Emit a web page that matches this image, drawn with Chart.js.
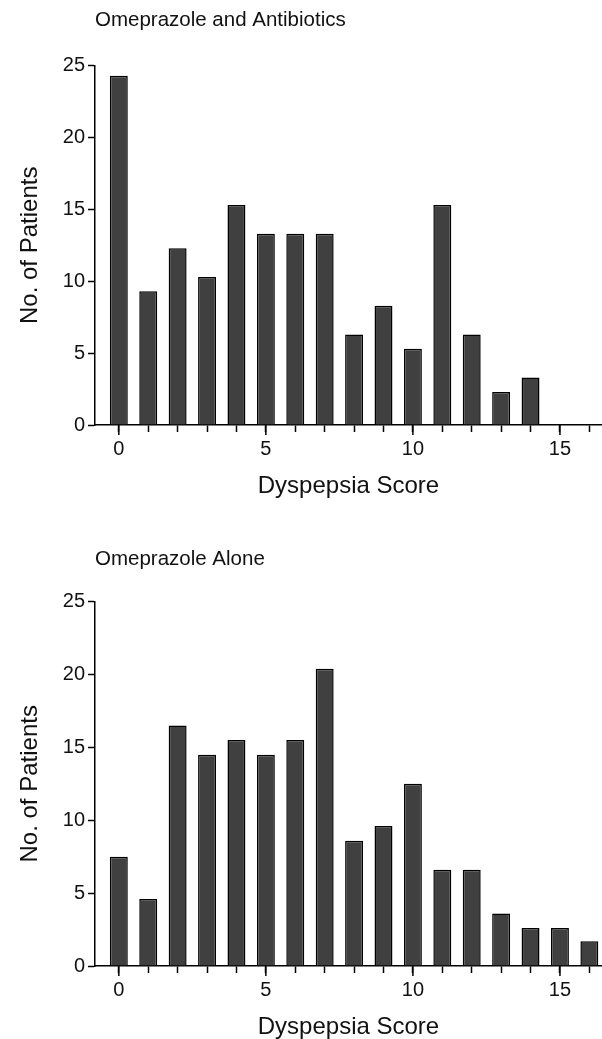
<!DOCTYPE html>
<html>
<head>
<meta charset="utf-8">
<script src="https://cdn.jsdelivr.net/npm/chart.js@4.4.1/dist/chart.umd.min.js"></script>
<style>
  html, body { margin: 0; padding: 0; background: #fff; }
  .panel { position: absolute; left: 0; width: 602px; }
  #top { top: 0; height: 530px; }
  #bottom { top: 530px; height: 509px; }
</style>
</head>
<body>
<div class="panel" id="top"><canvas id="c1"></canvas></div>
<div class="panel" id="bottom"><canvas id="c2"></canvas></div>
<script>
// dyspepsia score 0..16
const scores = [0, 1, 2, 3, 4, 5, 6, 7, 8, 9, 10, 11, 12, 13, 14, 15, 16]
const omeprazoleAntibiotics = [24.3, 9.3, 12.3, 10.3, 15.3, 13.3, 13.3, 13.3, 6.3, 8.3, 5.3, 15.3, 6.3, 2.3, 3.3, 0, 0]
const omeprazoleAlone = [7.5, 4.6, 16.5, 14.5, 15.5, 14.5, 15.5, 20.4, 8.6, 9.6, 12.5, 6.6, 6.6, 3.6, 2.6, 2.6, 1.7]
const yTicks = [0, 5, 10, 15, 20, 25]
const xMajor = [0, 5, 10, 15]

Chart.defaults.font.family = '"Liberation Sans", Arial, sans-serif'
Chart.defaults.color = "#111"

// longer tick marks at the labelled scores
const majorTicks = {
  id: "majorTicks",
  afterDraw(chart) {
    const x = chart.scales.x
    const ctx = chart.ctx
    ctx.save()
    ctx.strokeStyle = "#000"
    ctx.lineWidth = 1.5
    xMajor.forEach(v => {
      const px = x.getPixelForValue(v)
      ctx.beginPath()
      ctx.moveTo(px, x.top)
      ctx.lineTo(px, x.top + 10)
      ctx.stroke()
    })
    ctx.restore()
  }
}

function makeChart(id, title, values, lay) {
  return new Chart(document.getElementById(id), {
    type: "bar",
    data: {
      datasets: [{
        data: scores.map((s, i) => ({ x: s, y: values[i] })),
        backgroundColor: "#404040",
        borderColor: "#000",
        borderWidth: 1.5,
        barPercentage: 0.61,
        categoryPercentage: 1
      }]
    },
    options: {
      responsive: true,
      maintainAspectRatio: false,
      animation: false,
      layout: { padding: 0 },
      plugins: {
        legend: { display: false },
        tooltip: { enabled: false },
        title: {
          display: true,
          text: title,
          align: "start",
          fullSize: false,
          font: { size: 20.5, weight: "normal" },
          color: "#111",
          padding: { top: lay.titleTop, bottom: lay.titleBottom }
        }
      },
      scales: {
        x: {
          type: "linear",
          min: -0.81,
          max: 16.43,
          offset: false,
          afterBuildTicks: s => { s.ticks = scores.map(v => ({ value: v })) },
          afterFit: s => { s.height = lay.xHeight },
          ticks: {
            autoSkip: false,
            maxRotation: 0,
            padding: 5,
            font: { size: 20 },
            color: "#111",
            callback: v => xMajor.includes(v) ? String(v) : ""
          },
          grid: { display: true, drawOnChartArea: false, offset: false, tickLength: 7, tickWidth: 1.5, tickColor: "#000" },
          border: { display: true, color: "#000", width: 1.5 },
          title: {
            display: true,
            text: "Dyspepsia Score",
            font: { size: 24, lineHeight: 1 },
            color: "#111",
            padding: { top: 0, bottom: lay.xTitleBottom }
          }
        },
        y: {
          min: 0,
          max: 25,
          afterBuildTicks: s => { s.ticks = yTicks.map(v => ({ value: v })) },
          afterFit: s => { s.width = 95 },
          ticks: { padding: 3, font: { size: 20 }, color: "#111" },
          grid: { display: true, drawOnChartArea: false, tickLength: 7, tickWidth: 1.5, tickColor: "#000" },
          border: { display: true, color: "#000", width: 1.5 },
          title: {
            display: true,
            text: "No. of Patients",
            font: { size: 24, lineHeight: 1 },
            color: "#111",
            padding: { top: 18, bottom: 0 }
          }
        }
      }
    },
    plugins: [majorTicks]
  })
}

makeChart("c1", "Omeprazole and Antibiotics", omeprazoleAntibiotics,
  { titleTop: 8, titleBottom: 33, xHeight: 105, xTitleBottom: 32 })
makeChart("c2", "Omeprazole Alone", omeprazoleAlone,
  { titleTop: 17, titleBottom: 30, xHeight: 73, xTitleBottom: 0 })
</script>
</body>
</html>
